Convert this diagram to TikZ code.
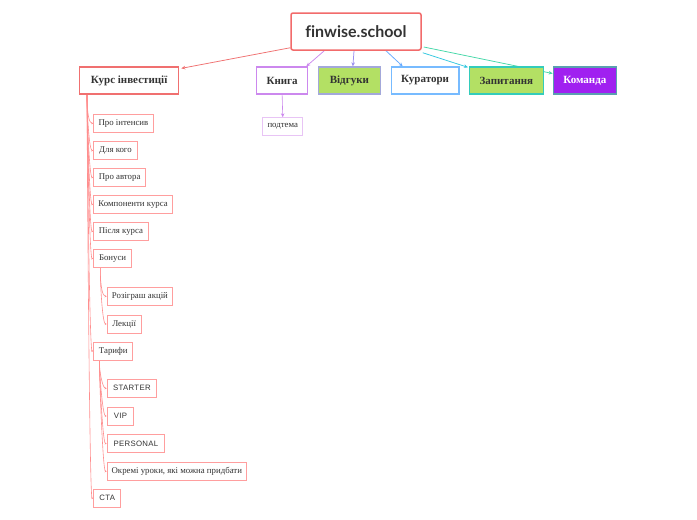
\documentclass[tikz,border=0pt]{standalone}
\usepackage{fontspec}
\setmainfont{Liberation Serif}
\newfontfamily\rootfont[Ligatures=NoCommon]{Lato}
\newfontfamily\capsfont[LetterSpace=4]{Liberation Sans}
\usetikzlibrary{arrows.meta,calc,backgrounds}
\definecolor{txt}{HTML}{333333}
\definecolor{rootc}{HTML}{F26B6B}
\definecolor{kursc}{HTML}{F07070}
\definecolor{knc}{HTML}{CC88EE}
\definecolor{podc}{HTML}{E8C4F5}
\definecolor{vidfill}{HTML}{B3E064}
\definecolor{vidline}{HTML}{A3A8DA}
\definecolor{kurc}{HTML}{77BBFF}
\definecolor{zapline}{HTML}{33CCBB}
\definecolor{komfill}{HTML}{A020F0}
\definecolor{komline}{HTML}{5A9FB0}
\definecolor{kidline}{HTML}{FF9E9E}
\definecolor{kidlk}{HTML}{FF8E8E}
\definecolor{lvid}{HTML}{9B8FF0}
\definecolor{lkur}{HTML}{66AAFF}
\definecolor{lzap}{HTML}{33C8E0}
\definecolor{lkom}{HTML}{44D8A8}
\tikzset{
  topic/.style={draw, line width=1.3pt, minimum height=27pt, inner sep=0pt, anchor=west,
    font=\fontsize{11}{13}\selectfont\bfseries, text=txt},
  kid/.style={draw=kidline, line width=0.9pt, minimum height=18pt, inner sep=0pt, anchor=west,
    font=\fontsize{8.8}{10}\selectfont, text=txt},
  capskid/.style={kid, font=\capsfont\fontsize{7.8}{9}\selectfont},
  link/.style={line width=0.75pt, -{Stealth[length=4pt,width=3.5pt]}},
  kidlink/.style={line width=0.6pt, draw=kidlk, -{Stealth[length=2pt,width=2pt]}}
}
\begin{document}
\begin{tikzpicture}[x=1pt,y=-1pt]
\useasboundingbox (0,0) rectangle (697,520);
% root
\node[draw=rootc, line width=1.5pt, rounded corners=2pt, minimum width=130pt, minimum height=37pt,
  inner sep=0pt, text=txt, font=\rootfont\bfseries\fontsize{16}{18}\selectfont] (root) at (356,31.5) {finwise.school};
% topics
\node[topic, draw=kursc, minimum width=99pt] (kurs) at (79,80.5) {Курс інвестиції};
\node[topic, draw=knc, minimum width=51pt] (kn) at (256,80.5) {Книга};
\node[topic, draw=vidline, fill=vidfill, minimum width=62.5pt] (vid) at (317.5,80.5) {Відгуки};
\node[topic, draw=kurc, minimum width=67.5pt] (kur) at (390.7,80.5) {Куратори};
\node[topic, draw=zapline, fill=vidfill, minimum width=73.5pt] (zap) at (469,80.5) {Запитання};
\node[topic, draw=komline, fill=komfill, text=white, minimum width=63pt] (kom) at (552.7,80.5) {Команда};
% subtopic of Книга
\node[kid, draw=podc, minimum width=40pt] (pod) at (262.3,126.7) {подтема};
% children of Курс
\node[kid, minimum width=59.4pt] (c1) at (93.3,123.3) {Про інтенсив};
\node[kid, minimum width=43.4pt] (c2) at (93.3,150.5) {Для кого};
\node[kid, minimum width=51.7pt] (c3) at (93.3,177.4) {Про автора};
\node[kid, minimum width=78.7pt] (c4) at (93.3,204.3) {Компоненти курса};
\node[kid, minimum width=54.4pt] (c5) at (93.3,231.3) {Після курса};
\node[kid, minimum width=37.7pt] (bon) at (93.3,258.5) {Бонуси};
\node[kid, minimum width=65.6pt] (b1) at (106.7,296.3) {Розіграш акцій};
\node[kid, minimum width=34pt] (b2) at (106.7,324) {Лекції};
\node[kid, minimum width=39pt] (tar) at (93.3,351) {Тарифи};
\node[capskid, minimum width=49.6pt] (t1) at (106.7,388.3) {STARTER};
\node[capskid, minimum width=26.6pt] (t2) at (106.7,416) {VIP};
\node[capskid, minimum width=57.6pt] (t3) at (106.7,443.5) {PERSONAL};
\node[kid, minimum width=139.3pt] (t4) at (106.7,471.3) {Окремі уроки, які можна придбати};
\node[capskid, minimum width=27pt] (cta) at (93.3,498.2) {CTA};
\begin{scope}[on background layer]
\fill[white] (0,0) rectangle (697,520);
% root connectors
\draw[link, draw=kursc] ($(root.south west)+(0,-3)$) -- ($(kurs.north east)+(2,2)$);
\draw[link, draw=knc] ($(root.south west)+(34,0)$) -- ($(kn.north east)+(-2,0)$);
\draw[link, draw=lvid] ($(root.south)+(-2,0)$) -- ($(vid.north)+(3.5,0)$);
\draw[link, draw=lkur] ($(root.south)+(30,0)$) -- ($(kur.north west)+(12,0)$);
\draw[link, draw=lzap] ($(root.south east)+(1,2)$) -- ($(zap.north west)+(-1,1)$);
\draw[link, draw=lkom] ($(root.east)+(2,15.5)$) -- ($(kom.west)+(0,-7)$);
\draw[link, draw=knc, line width=0.6pt] (kn.south) -- (pod.north);
% Курс children
\coordinate (ks) at ($(kurs.south west)+(8,0)$);
\foreach \c in {c1,c2,c3,c4,c5,bon,tar,cta}
  \draw[kidlink] (ks) .. controls +(0,20) and +(-4,0) .. (\c.west);
\coordinate (bs) at ($(bon.south west)+(7,0)$);
\foreach \c in {b1,b2}
  \draw[kidlink] (bs) .. controls +(0,20) and +(-4,0) .. (\c.west);
\coordinate (ts) at ($(tar.south west)+(6,0)$);
\foreach \c in {t1,t2,t3,t4}
  \draw[kidlink] (ts) .. controls +(0,12) and +(-4,0) .. (\c.west);
\end{scope}
\end{tikzpicture}
\end{document}
